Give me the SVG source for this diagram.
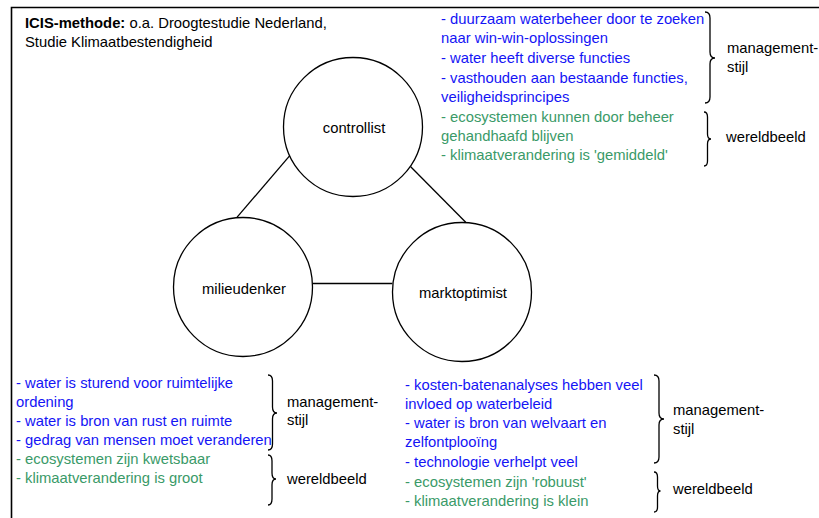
<svg xmlns="http://www.w3.org/2000/svg" width="819" height="518" viewBox="0 0 819 518">
<style>
text{font-family:"Liberation Sans",Arial,Helvetica,sans-serif;font-size:14.8px;fill:#000}
.b{fill:#1414f5}
.g{fill:#3a9a68}
.node circle{fill:#fff;stroke:#000;stroke-width:1.3}
.node text{text-anchor:middle}
.conn line{stroke:#000;stroke-width:1.3}
.brace{fill:none;stroke:#000;stroke-width:1.3}
.frame{stroke:#000;stroke-width:1.6;fill:none}
</style>
<rect width="819" height="518" fill="#fff"/>
<path class="frame" d="M11.5,518 V7.5 H819"/>

<g id="title">
<text x="25" y="28"><tspan font-weight="bold">ICIS-methode:</tspan> o.a. Droogtestudie Nederland,</text>
<text x="25" y="47">Studie Klimaatbestendigheid</text>
</g>

<g class="conn" id="connectors">
<line x1="291.7" y1="153.3" x2="236.7" y2="217.7"/>
<line x1="410.7" y1="166.7" x2="465.7" y2="222.3"/>
<line x1="312.7" y1="283.5" x2="392.3" y2="283.5"/>
</g>

<g class="node" id="controllist">
<circle cx="353" cy="127" r="69.5"/>
<text x="354" y="133">controllist</text>
</g>
<g class="node" id="milieudenker">
<circle cx="243" cy="287" r="69.5"/>
<text x="244" y="294">milieudenker</text>
</g>
<g class="node" id="marktoptimist">
<circle cx="462" cy="292" r="69.5"/>
<text x="463" y="298">marktoptimist</text>
</g>

<g id="controllist-notes">
<text class="b" x="441" y="24">- duurzaam waterbeheer door te zoeken</text>
<text class="b" x="441" y="43.3">naar win-win-oplossingen</text>
<text class="b" x="441" y="63">- water heeft diverse functies</text>
<text class="b" x="441" y="82.5">- vasthouden aan bestaande functies,</text>
<text class="b" x="441" y="101.7">veiligheidsprincipes</text>
<text class="g" x="441" y="121.5">- ecosystemen kunnen door beheer</text>
<text class="g" x="441" y="140.7">gehandhaafd blijven</text>
<text class="g" x="441" y="160">- klimaatverandering is 'gemiddeld'</text>
<path class="brace" d="M705,12 Q710,12 710,18 V52 Q710,58 715,58 Q710,58 710,64 V97 Q710,103 705,103"/>
<text x="727" y="53">management-</text>
<text x="727" y="72">stijl</text>
<path class="brace" d="M704,112 Q707.5,112 707.5,117 V134 Q707.5,139 711,139 Q707.5,139 707.5,144 V161 Q707.5,166 704,166"/>
<text x="726" y="142">wereldbeeld</text>
</g>

<g id="milieudenker-notes">
<text class="b" x="16" y="388.3">- water is sturend voor ruimtelijke</text>
<text class="b" x="16" y="406.7">ordening</text>
<text class="b" x="16" y="425.7">- water is bron van rust en ruimte</text>
<text class="b" x="16" y="445">- gedrag van mensen moet veranderen</text>
<text class="g" x="16" y="464.3">- ecosystemen zijn kwetsbaar</text>
<text class="g" x="16" y="483.3">- klimaatverandering is groot</text>
<path class="brace" d="M268,375 Q272.5,375 272.5,381 V407 Q272.5,413 277,413 Q272.5,413 272.5,419 V444 Q272.5,450 268,450"/>
<text x="287" y="407">management-</text>
<text x="287" y="425">stijl</text>
<path class="brace" d="M268,455 Q272,455 272,461 V473 Q272,479 276,479 Q272,479 272,485 V499 Q272,505 268,505"/>
<text x="287" y="483.5">wereldbeeld</text>
</g>

<g id="marktoptimist-notes">
<text class="b" x="405" y="390">- kosten-batenanalyses hebben veel</text>
<text class="b" x="405" y="408.5">invloed op waterbeleid</text>
<text class="b" x="405" y="428.3">- water is bron van welvaart en</text>
<text class="b" x="405" y="447.3">zelfontplooïng</text>
<text class="b" x="405" y="467.3">- technologie verhelpt veel</text>
<text class="g" x="405" y="486.7">- ecosystemen zijn 'robuust'</text>
<text class="g" x="405" y="506">- klimaatverandering is klein</text>
<path class="brace" d="M654,375 Q659,375 659,381 V413 Q659,419 664,419 Q659,419 659,425 V457 Q659,463 654,463"/>
<text x="673" y="415">management-</text>
<text x="673" y="434">stijl</text>
<path class="brace" d="M654,472 Q657.5,472 657.5,477 V486 Q657.5,491 660.5,491 Q657.5,491 657.5,496 V507 Q657.5,512 654,512"/>
<text x="673" y="494">wereldbeeld</text>
</g>
</svg>
